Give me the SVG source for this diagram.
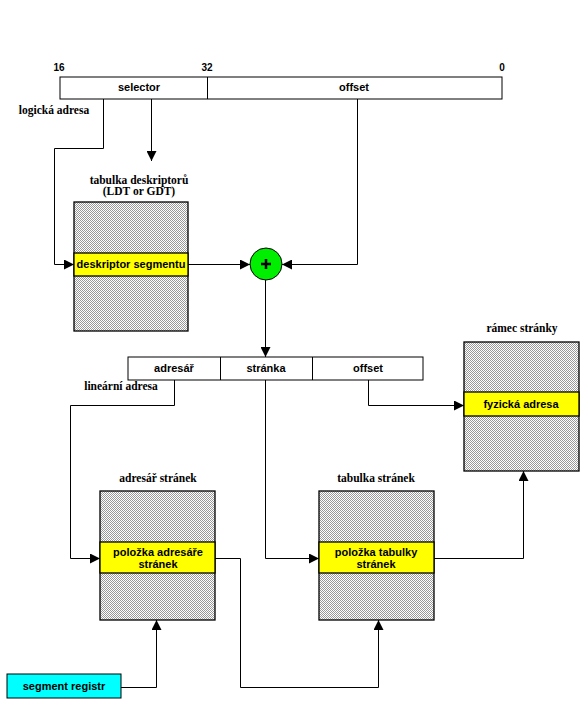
<svg xmlns="http://www.w3.org/2000/svg" width="583" height="706" viewBox="0 0 583 706">
<defs>
<pattern id="dots" width="2" height="2" patternUnits="userSpaceOnUse">
<rect width="2" height="2" fill="#ffffff"/>
<rect width="1" height="1" fill="#999999"/>
<rect x="1" y="1" width="1" height="1" fill="#999999"/>
</pattern>
<marker id="arr" viewBox="0 0 10 10" refX="10" refY="5" markerWidth="10" markerHeight="10" markerUnits="userSpaceOnUse" orient="auto">
<path d="M0,0 L10,5 L0,10 Z" fill="#000"/>
</marker>
</defs>
<style>
.box{fill:#fff;stroke:#000;stroke-width:1}
.tbl{fill:url(#dots);stroke:#000;stroke-width:1.3}
.band{fill:#ffff00;stroke:#000;stroke-width:1.3}
.lbl{font-family:"Liberation Sans",Arial,sans-serif;font-weight:bold;font-size:11px;text-anchor:middle;fill:#000}
.ttl{font-family:"Liberation Serif","Times New Roman",serif;font-weight:bold;font-size:11.5px;text-anchor:middle;fill:#000}
.num{font-family:"Liberation Sans",Arial,sans-serif;font-weight:bold;font-size:10px;text-anchor:middle;fill:#000}
.ln{fill:none;stroke:#000;stroke-width:1}
.la{fill:none;stroke:#000;stroke-width:1;marker-end:url(#arr)}
</style>
<rect width="583" height="706" fill="#fff"/>

<g id="logical-address">
<rect class="box" x="60" y="77" width="442" height="22"/>
<line class="ln" x1="207.5" y1="77" x2="207.5" y2="99"/>
<text class="lbl" x="139" y="91">selector</text>
<text class="lbl" x="354" y="91">offset</text>
<text class="num" x="59" y="71">16</text>
<text class="num" x="207" y="71">32</text>
<text class="num" x="502" y="71">0</text>
<text class="ttl" x="54" y="114">logická adresa</text>
</g>

<g id="descriptor-table">
<text class="ttl" x="139" y="184">tabulka deskriptorů</text>
<text class="ttl" x="139" y="195">(LDT or GDT)</text>
<rect class="tbl" x="74" y="202" width="114" height="129"/>
<rect class="band" x="74" y="253" width="114" height="23"/>
<text class="lbl" x="131" y="268">deskriptor segmentu</text>
</g>

<g id="adder">
<circle cx="266" cy="264" r="16" fill="#00ee00" stroke="#000" stroke-width="1"/>
<path d="M261,264 H271 M266,259 V269" stroke="#000" stroke-width="2.5"/>
</g>

<g id="linear-address">
<rect class="box" x="128" y="357" width="295" height="23"/>
<line class="ln" x1="220.5" y1="357" x2="220.5" y2="380"/>
<line class="ln" x1="312.5" y1="357" x2="312.5" y2="380"/>
<text class="lbl" x="174" y="372">adresář</text>
<text class="lbl" x="266" y="372">stránka</text>
<text class="lbl" x="368" y="372">offset</text>
<text class="ttl" x="121" y="390">lineární adresa</text>
</g>

<g id="page-frame">
<text class="ttl" x="522" y="332">rámec stránky</text>
<rect class="tbl" x="464" y="342" width="115" height="129"/>
<rect class="band" x="464" y="392" width="115" height="24"/>
<text class="lbl" x="521" y="408">fyzická adresa</text>
</g>

<g id="page-directory">
<text class="ttl" x="158" y="482">adresář stránek</text>
<rect class="tbl" x="100" y="491" width="115" height="129"/>
<rect class="band" x="100" y="542" width="115" height="31"/>
<text class="lbl" x="158" y="556">položka adresáře</text>
<text class="lbl" x="158" y="568">stránek</text>
</g>

<g id="page-table">
<text class="ttl" x="376" y="482">tabulka stránek</text>
<rect class="tbl" x="319" y="491" width="115" height="129"/>
<rect class="band" x="319" y="542" width="115" height="31"/>
<text class="lbl" x="376" y="556">položka tabulky</text>
<text class="lbl" x="376" y="568">stránek</text>
</g>

<g id="segment-register">
<rect x="7" y="674" width="114" height="24" fill="#00ffff" stroke="#000" stroke-width="1"/>
<text class="lbl" x="64" y="690">segment registr</text>
</g>

<g id="connectors">
<polyline class="la" points="103.5,99 103.5,148.5 54.5,148.5 54.5,264.5 74,264.5"/>
<polyline class="la" points="151.5,99 151.5,161"/>
<polyline class="la" points="188,264.5 250,264.5"/>
<polyline class="la" points="357.5,99 357.5,264.5 282,264.5"/>
<polyline class="la" points="265.5,280 265.5,357"/>
<polyline class="la" points="174.5,380 174.5,405.5 70.5,405.5 70.5,558.5 100,558.5"/>
<polyline class="la" points="265.5,380 265.5,558.5 319,558.5"/>
<polyline class="la" points="368.5,380 368.5,405.5 464,405.5"/>
<polyline class="la" points="434,558.5 523.5,558.5 523.5,471"/>
<polyline class="la" points="215,558.5 240.5,558.5 240.5,687.5 378.5,687.5 378.5,620"/>
<polyline class="la" points="121,687.5 156.5,687.5 156.5,620"/>
</g>
</svg>
